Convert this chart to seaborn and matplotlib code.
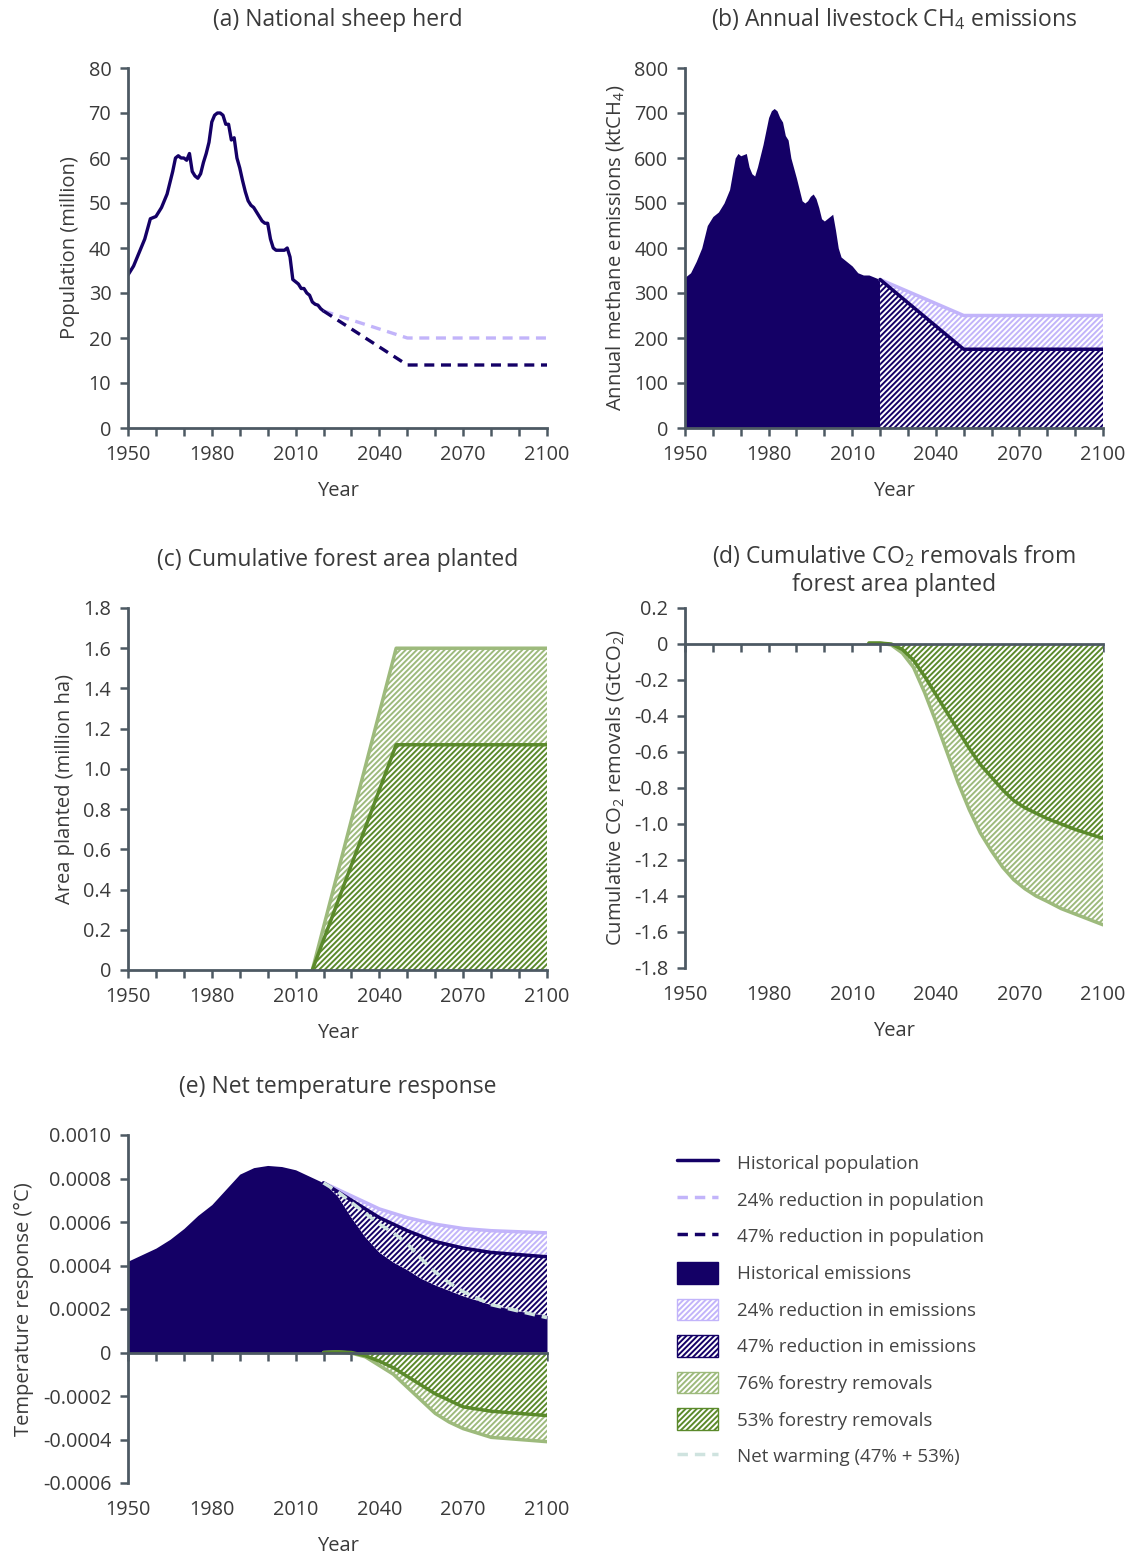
import numpy as np
import pandas as pd
import matplotlib
matplotlib.use("Agg")
import matplotlib.pyplot as plt
import seaborn as sns
from matplotlib.lines import Line2D
from matplotlib.patches import Patch

sns.set_theme(style="white")
plt.rcParams['font.family'] = ['Open Sans', 'DejaVu Sans']
plt.rcParams['mathtext.fontset'] = 'custom'
plt.rcParams['mathtext.rm'] = 'Open Sans'
plt.rcParams['hatch.linewidth'] = 1.4

NAVY = '#140066'; LPUR = '#c2b4fa'; DGRN = '#5b8a2b'; LGRN = '#9dba7c'; AX = '#4d5963'; NET = '#cfe3df'

# (a) sheep population (million)
sheep_years = [1950,1952,1954,1956,1958,1960,1962,1964,1966,1967,1968,1969,1970,1971,1972,1973,1974,1975,1976,1977,1978,1979,1980,1981,1982,1983,1984,1985,1986,1987,1988,1989,1990,1991,1992,1993,1994,1995,1996,1997,1998,1999,2000,2001,2002,2003,2004,2005,2006,2007,2008,2009,2010,2011,2012,2013,2014,2015,2016,2017,2018,2019,2020]
sheep_pop = [34,36,39,42,46.5,47,49,52,57,60,60.5,60,60,59.5,61,57,56,55.5,56.5,59,61,63.5,68,69.5,70,70,69.5,67.5,67.5,64,64.5,60,57.8,55,52.5,50.5,49.5,49,48,47,46,45.5,45.5,42,40,39.5,39.5,39.5,39.5,40,38,33,32.5,32,31,31,30,29.5,28,27.5,27.3,26.5,26]
proj_years = [2020,2050,2100]
sheep_24 = [26,20,20]
sheep_47 = [26,14,14]

# (b) emissions ktCH4
em_years = [1950,1952,1954,1956,1958,1960,1962,1964,1966,1968,1969,1970,1972,1973,1974,1975,1976,1978,1980,1981,1982,1983,1984,1985,1986,1987,1988,1990,1992,1993,1994,1995,1996,1997,1998,1999,2000,2002,2003,2004,2005,2006,2007,2008,2010,2012,2014,2016,2018,2020]
em_vals = [335,345,370,400,450,470,480,500,530,600,610,605,610,580,565,560,580,630,690,705,710,705,690,680,650,640,600,555,505,500,505,515,520,510,490,465,460,470,475,440,400,380,375,370,360,345,340,340,335,330]
em_24 = [330,250,250]
em_47 = [330,175,175]

# (c) forest area (million ha)
for_years = [1950,2016,2046,2100]
for_76 = [0,0,1.6,1.6]
for_53 = [0,0,1.12,1.12]

# (d) cumulative CO2 removals (GtCO2)
co2_years = [2016,2020,2024,2028,2032,2036,2040,2044,2048,2052,2056,2060,2064,2068,2072,2076,2080,2085,2090,2095,2100]
co2_53 = [0.005,0.005,0,-0.03,-0.09,-0.18,-0.28,-0.38,-0.48,-0.58,-0.67,-0.74,-0.81,-0.87,-0.91,-0.94,-0.97,-1.0,-1.03,-1.055,-1.08]
co2_76 = [0.005,0.005,-0.005,-0.05,-0.13,-0.27,-0.43,-0.6,-0.77,-0.92,-1.05,-1.15,-1.24,-1.31,-1.36,-1.4,-1.43,-1.47,-1.5,-1.53,-1.56]

# (e) temperature response (degC)
t_hist_years = [1950,1955,1960,1965,1970,1975,1980,1985,1990,1995,2000,2005,2010,2015,2020]
t_hist = [0.00042,0.00045,0.00048,0.00052,0.00057,0.00063,0.00068,0.00075,0.00082,0.00085,0.00086,0.000855,0.00084,0.00081,0.00078]
t_fut_years = [2020,2025,2030,2035,2040,2045,2050,2055,2060,2065,2070,2080,2090,2100]
t_24 = [0.00078,0.00075,0.00072,0.00069,0.00066,0.00064,0.00062,0.000605,0.00059,0.00058,0.00057,0.00056,0.000555,0.00055]
t_47 = [0.00078,0.00074,0.00070,0.00066,0.00062,0.00059,0.00056,0.000535,0.00051,0.000495,0.00048,0.00046,0.00045,0.00044]
t_base = [0.00078,0.00072,0.00062,0.00053,0.00046,0.000415,0.00038,0.00034,0.00031,0.000285,0.00026,0.00022,0.00019,0.00017]
t_net = [0.00078,0.00074,0.00069,0.00064,0.00059,0.00055,0.00050,0.00043,0.00037,0.00032,0.00028,0.00022,0.00019,0.00016]
tf_years = [2020,2025,2030,2035,2040,2045,2050,2055,2060,2065,2070,2080,2090,2100]
tf_53 = [0,0.000003,0,-0.000015,-0.00004,-0.00007,-0.00011,-0.00015,-0.00019,-0.00022,-0.00025,-0.00027,-0.00028,-0.00029]
tf_76 = [0,0.000003,-0.000003,-0.00002,-0.00006,-0.0001,-0.00016,-0.00022,-0.00028,-0.00032,-0.00035,-0.00039,-0.0004,-0.00041]

xticks_major = [1950,1980,2010,2040,2070,2100]

W, H = 1134, 1565
fig = plt.figure(figsize=(W/100, H/100), dpi=100)
def mkax(l, r, t, b):
    return fig.add_axes([l/W, 1-b/H, (r-l)/W, (b-t)/H])

FS = 14.3
TXT = '#3a3a3a'
def style(ax, ylim, yticks, ylabels, title, ylabel, zero_axis=False):
    ax.set_xlim(1950, 2100)
    ax.set_ylim(*ylim)
    for s in ['top', 'right']:
        ax.spines[s].set_visible(False)
    for s in ['left', 'bottom']:
        ax.spines[s].set_color(AX); ax.spines[s].set_linewidth(2)
    ax.set_yticks(yticks); ax.set_yticklabels(ylabels, fontsize=FS, color=TXT)
    ax.set_xticks(np.arange(1950, 2101, 10))
    ax.tick_params(axis='both', direction='out', length=6, width=1.8, color=AX, left=True, bottom=True, pad=6)
    ax.set_title(title, fontsize=16.5, color=TXT, pad=30, linespacing=1.25)
    ax.set_ylabel(ylabel, fontsize=14.5, color=TXT, labelpad=6)
    ax.grid(False)
    if zero_axis:
        ax.spines['bottom'].set_position(('data', 0))
        ax.tick_params(axis='x', labelbottom=False)
        sec = ax.secondary_xaxis('bottom')
        sec.spines['bottom'].set_visible(False)
        sec.set_xticks(xticks_major)
        sec.set_xticklabels([str(y) for y in xticks_major], fontsize=FS, color=TXT)
        sec.tick_params(length=0, pad=12)
        sec.set_xlabel('Year', fontsize=14.5, color=TXT, labelpad=12)
    else:
        ax.set_xticklabels([str(y) if y in xticks_major else '' for y in np.arange(1950, 2101, 10)], fontsize=FS, color=TXT)
        ax.set_xlabel('Year', fontsize=14.5, color=TXT, labelpad=12)

# (a)
ax = mkax(128, 547, 68, 428)
sns.lineplot(x=sheep_years, y=sheep_pop, ax=ax, color=NAVY, lw=2.4)
sns.lineplot(x=proj_years, y=sheep_24, ax=ax, color=LPUR, lw=2.4, ls=(0, (3, 2)))
sns.lineplot(x=proj_years, y=sheep_47, ax=ax, color=NAVY, lw=2.4, ls=(0, (3, 2)))
style(ax, (0, 80), range(0, 81, 10), [str(v) for v in range(0, 81, 10)], '(a) National sheep herd', 'Population (million)')

# (b)
ax = mkax(685, 1103, 68, 428)
ax.fill_between(em_years, em_vals, 0, color=NAVY, lw=0)
ax.fill_between(proj_years, em_24, em_47, facecolor='white', edgecolor=LPUR, hatch='//////', lw=0)
ax.fill_between(proj_years, em_47, 0, facecolor='white', edgecolor=NAVY, hatch='//////', lw=0)
sns.lineplot(x=proj_years, y=em_24, ax=ax, color=LPUR, lw=2.5)
sns.lineplot(x=proj_years, y=em_47, ax=ax, color=NAVY, lw=2.5)
style(ax, (0, 800), range(0, 801, 100), [str(v) for v in range(0, 801, 100)], '(b) Annual livestock CH$_4$ emissions', 'Annual methane emissions (ktCH$_4$)')

# (c)
ax = mkax(128, 547, 608, 970)
ax.fill_between(for_years, for_76, for_53, facecolor='white', edgecolor=LGRN, hatch='//////', lw=0)
ax.fill_between(for_years, for_53, 0, facecolor='white', edgecolor=DGRN, hatch='//////', lw=0)
sns.lineplot(x=for_years[1:], y=for_76[1:], ax=ax, color=LGRN, lw=2.5)
sns.lineplot(x=for_years[1:], y=for_53[1:], ax=ax, color=DGRN, lw=2.5)
cy = np.round(np.arange(0, 1.81, 0.2), 1)
style(ax, (0, 1.8), cy, ['0'] + [f'{v:.1f}' for v in cy[1:]], '(c) Cumulative forest area planted', 'Area planted (million ha)')

# (d)
ax = mkax(685, 1103, 608, 968)
ax.fill_between(co2_years, co2_76, co2_53, facecolor='white', edgecolor=LGRN, hatch='//////', lw=0)
ax.fill_between(co2_years, co2_53, 0, facecolor='white', edgecolor=DGRN, hatch='//////', lw=0)
sns.lineplot(x=co2_years, y=co2_76, ax=ax, color=LGRN, lw=2.5)
sns.lineplot(x=co2_years, y=co2_53, ax=ax, color=DGRN, lw=2.5)
dy = np.round(np.arange(-1.8, 0.21, 0.2), 1)
style(ax, (-1.8, 0.2), dy, [('0' if abs(v) < 1e-9 else f'{v:.1f}') for v in dy], '(d) Cumulative CO$_2$ removals from\nforest area planted', 'Cumulative CO$_2$ removals (GtCO$_2$)', zero_axis=True)
ax.set_title(ax.get_title(), fontsize=16.5, color=TXT, pad=12, linespacing=1.25)

# (e)
ax = mkax(128, 547, 1135, 1483)
ax.fill_between(t_hist_years[:-1] + t_fut_years, t_hist[:-1] + t_base, 0, color=NAVY, lw=0)
ax.fill_between(t_fut_years, t_24, t_47, facecolor='white', edgecolor=LPUR, hatch='//////', lw=0)
ax.fill_between(t_fut_years, t_47, t_base, facecolor='white', edgecolor=NAVY, hatch='//////', lw=0)
ax.fill_between(tf_years, tf_76, tf_53, facecolor='white', edgecolor=LGRN, hatch='//////', lw=0)
ax.fill_between(tf_years, tf_53, 0, facecolor='white', edgecolor=DGRN, hatch='//////', lw=0)
sns.lineplot(x=t_fut_years, y=t_24, ax=ax, color=LPUR, lw=2.5)
sns.lineplot(x=t_fut_years, y=t_47, ax=ax, color=NAVY, lw=2.5)
sns.lineplot(x=tf_years, y=tf_76, ax=ax, color=LGRN, lw=2.5)
sns.lineplot(x=tf_years, y=tf_53, ax=ax, color=DGRN, lw=2.5)
sns.lineplot(x=t_fut_years, y=t_net, ax=ax, color=NET, lw=2.5, ls=(0, (3, 2)))
ey = np.round(np.arange(-0.0006, 0.00101, 0.0002), 4)
style(ax, (-0.0006, 0.001), ey, [('0' if abs(v) < 1e-9 else f'{v:.4f}') for v in ey], '(e) Net temperature response', 'Temperature response (°C)', zero_axis=True)

handles = [
    Line2D([], [], color=NAVY, lw=2.5),
    Line2D([], [], color=LPUR, lw=2.5, ls=(0, (3, 2))),
    Line2D([], [], color=NAVY, lw=2.5, ls=(0, (3, 2))),
    Patch(facecolor=NAVY, edgecolor=NAVY),
    Patch(facecolor='white', edgecolor=LPUR, hatch='//////'),
    Patch(facecolor='white', edgecolor=NAVY, hatch='//////'),
    Patch(facecolor='white', edgecolor=LGRN, hatch='//////'),
    Patch(facecolor='white', edgecolor=DGRN, hatch='//////'),
    Line2D([], [], color=NET, lw=2.5, ls=(0, (3, 2))),
]
labels = ['Historical population', '24% reduction in population', '47% reduction in population',
          'Historical emissions', '24% reduction in emissions', '47% reduction in emissions',
          '76% forestry removals', '53% forestry removals', 'Net warming (47% + 53%)']
leg = fig.legend(handles, labels, loc='upper left', bbox_to_anchor=(660/W, 1-1135/H), frameon=False,
                 fontsize=13.5, labelspacing=0.8, handlelength=2.2, handleheight=1.4, handletextpad=1.0)
for t in leg.get_texts():
    t.set_color('#444444')

fig.savefig('out.png', dpi=100)
